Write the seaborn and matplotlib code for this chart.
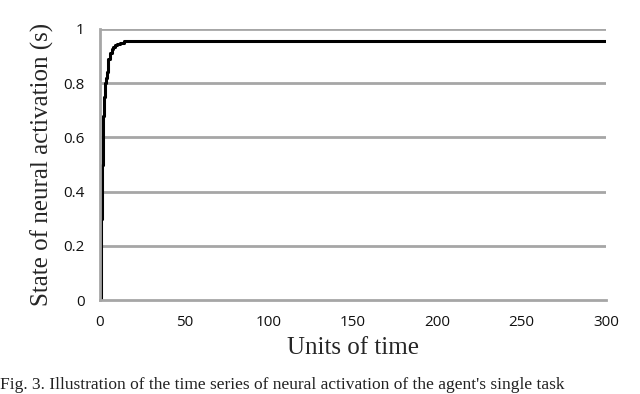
import numpy as np
import pandas as pd
import matplotlib
matplotlib.use("Agg")
import matplotlib.pyplot as plt
import seaborn as sns

# time series of neural activation
time = [0, 0.3, 0.6, 1.0, 1.5, 2.0, 2.5, 3.0, 3.5, 4.0, 4.5, 5.0, 6.0, 7.0,
        8.0, 9.0, 10.0, 12.0, 14.0, 300.0]
state = [0.0, 0.1, 0.3, 0.5, 0.6, 0.68, 0.75, 0.8, 0.82, 0.84, 0.87, 0.89,
         0.91, 0.925, 0.935, 0.94, 0.945, 0.95, 0.955, 0.955]
xticks = [0, 50, 100, 150, 200, 250, 300]
yticks = [0, 0.2, 0.4, 0.6, 0.8, 1]
ytick_labels = ["0", "0.2", "0.4", "0.6", "0.8", "1"]

df = pd.DataFrame({"t": time, "s": state})

sns.set_style("white")
fig = plt.figure(figsize=(6.4, 3.94), dpi=100)
ax = fig.add_axes([100 / 640, 1 - 300 / 394, 506 / 640, 271 / 394])

sns.lineplot(data=df, x="t", y="s", ax=ax, color="black", linewidth=2.2,
             drawstyle="steps-post")

grid_c = "#a6a6a6"
for y in yticks[1:]:
    ax.axhline(y, color=grid_c, linewidth=2, zorder=0)

ax.set_xlim(0, 300)
ax.set_ylim(0, 1)
ax.set_xticks(xticks)
ax.set_yticks(yticks)
ax.set_yticklabels(ytick_labels)
for sp in ["top", "right"]:
    ax.spines[sp].set_visible(False)
for sp in ["left", "bottom"]:
    ax.spines[sp].set_color(grid_c)
    ax.spines[sp].set_linewidth(2)
ax.tick_params(axis="x", direction="out", length=5, width=2, color=grid_c,
               labelsize=11, pad=6, labelcolor="#111111")
ax.tick_params(axis="y", direction="out", length=5, width=2, color=grid_c,
               labelsize=11, pad=6, labelcolor="#111111")
for lab in ax.get_xticklabels() + ax.get_yticklabels():
    lab.set_family("Open Sans")

ax.set_xlabel("Units of time", family="Liberation Serif", fontsize=18, labelpad=5)
ax.set_ylabel("State of neural activation (s)", family="Liberation Serif",
              fontsize=18, labelpad=7)

fig.text(0.0, 0.002, "Fig. 3. Illustration of the time series of neural activation "
         "of the agent's single task", family="Liberation Serif", fontsize=12.5,
         ha="left", va="bottom", color="#222222")

fig.savefig("out.png", dpi=100)
